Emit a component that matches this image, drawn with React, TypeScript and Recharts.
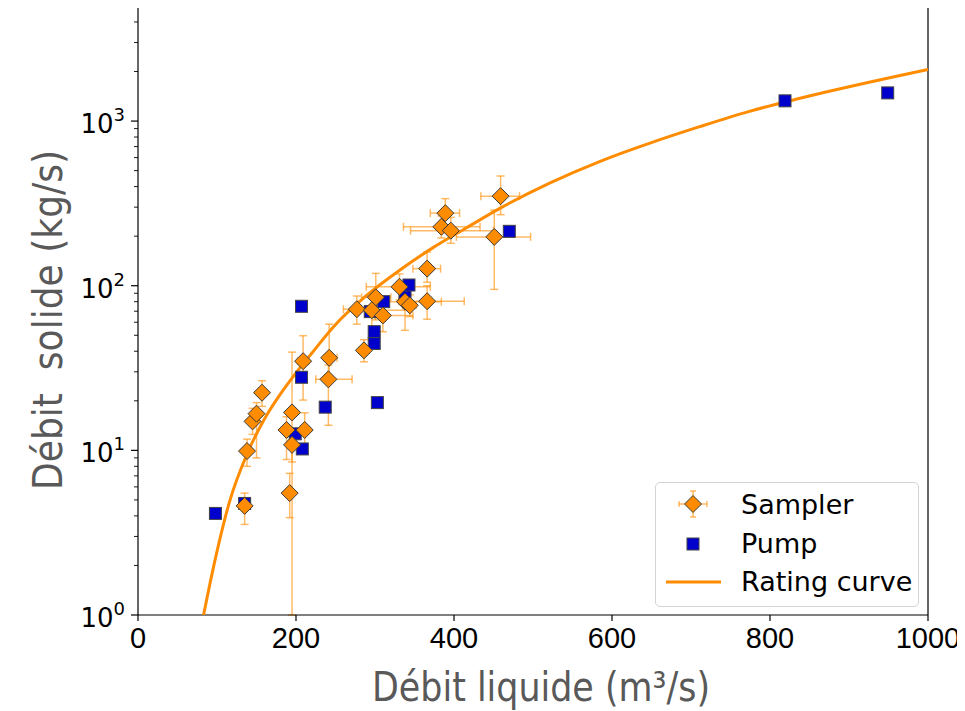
import { ScatterChart, Scatter, XAxis, YAxis, ErrorBar, ReferenceLine, Label } from 'recharts';

// Sampler points (débit liquide, débit solide) with error bounds
const samplerQ = [135, 138, 145, 150, 157, 192, 188, 195, 195, 211, 209, 242, 241, 286, 277, 301, 296, 310, 331, 338, 344, 366, 366, 389, 384, 396, 459, 451];
const samplerQs = [4.6, 9.9, 15.0, 16.7, 22.4, 5.5, 13.3, 17, 10.8, 13.3, 34.8, 36.5, 27, 40.5, 72, 85, 71, 66, 98.5, 80, 76, 127, 80.5, 276, 228, 216, 350, 198];
const samplerQsLow = [3.55, 8.0, 12.5, 9.0, 18.5, 3.9, 8.8, 1.0, 8.5, 10.0, 20.2, 28, 14.2, 34.5, 58.4, 62, 55, 52.6, 82, 53.6, 65, 105, 62.6, 230, 195, 181, 270, 95];
const samplerQsHigh = [5.5, 11.7, 18, 19.5, 26.5, 7.25, 16, 39.5, 13.5, 16.9, 49.7, 58.4, 33, 47, 86.6, 118.8, 90, 78, 118, 100, 88, 160, 100, 338, 265, 260, 464, 288];
const samplerQLow = [131, 133, 140, 145, 152, 188, 183, 190, 190, 206, 202, 236, 225, 280, 260, 283, 280, 300, 289, 310, 335, 348, 330, 370, 336, 345, 434, 403];
const samplerQHigh = [140, 143, 150, 155, 162, 196, 193, 200, 200, 216, 216, 252, 271, 292, 295, 320, 345, 348, 370, 384, 352, 383, 413, 407, 433, 450, 483, 497];

// Pump points
const pumpQ = [98, 135, 199, 208, 207, 207, 237, 294, 299, 299, 303, 311, 338, 343, 470, 819, 949];
const pumpQs = [4.14, 4.76, 12.6, 10.2, 27.8, 75, 18.3, 69.6, 44.6, 52.6, 19.5, 80, 88, 101, 214, 1327, 1483];

// Rating curve
const curveQ = [83, 95, 116, 138, 159, 180, 201, 222, 247, 289, 332, 374, 416, 458, 521, 585, 648, 711, 775, 838, 1000];
const curveQs = [1, 1.9, 4.9, 9.5, 15.2, 21.9, 30, 40, 56, 87, 125, 171, 225, 295, 420, 570, 735, 925, 1150, 1375, 2056];

const xTicks = [0, 200, 400, 600, 800, 1000];
const yTicks = [
  1, 2, 3, 4, 5, 6, 7, 8, 9,
  10, 20, 30, 40, 50, 60, 70, 80, 90,
  100, 200, 300, 400, 500, 600, 700, 800, 900,
  1000, 2000, 3000, 4000, 5000,
];

const samplerData = samplerQ.map((q, i) => ({
  x: q,
  y: samplerQs[i],
  ex: [q - samplerQLow[i], samplerQHigh[i] - q],
  ey: [samplerQs[i] - samplerQsLow[i], samplerQsHigh[i] - samplerQs[i]],
}));
const pumpData = pumpQ.map((q, i) => ({ x: q, y: pumpQs[i] }));
const curveData = curveQ.map((q, i) => ({ x: q, y: curveQs[i] }));

const ORANGE = '#ff8c00';
const ERR = 'rgba(255,140,0,0.6)';
const BLUE = '#0000cd';
const TITLE_FONT = '"Liberation Sans Narrow", "DejaVu Sans Condensed", "Liberation Sans", sans-serif';

const Diamond = (props: any) => {
  const { cx, cy } = props;
  const r = 8.5;
  return (
    <polygon
      points={`${cx},${cy - r} ${cx + r},${cy} ${cx},${cy + r} ${cx - r},${cy}`}
      fill={ORANGE}
      stroke="#3a3a3a"
      strokeWidth={1}
    />
  );
};

const Square = (props: any) => {
  const { cx, cy } = props;
  return <rect x={cx - 6} y={cy - 6} width={12} height={12} fill={BLUE} stroke="#444" strokeWidth={1} />;
};

const NoDot = () => <g />;

const XTick = (props: any) => {
  const { x, y, payload } = props;
  return (
    <text x={x} y={y + 27} textAnchor="middle" fontFamily='"Liberation Sans", sans-serif' fontSize={29} fill="#000">
      {payload.value}
    </text>
  );
};

const YTick = (props: any) => {
  const { x, y, payload } = props;
  const lg = Math.log10(payload.value);
  const exp = Math.round(lg);
  const major = Math.abs(lg - exp) < 1e-6;
  return (
    <g>
      <line x1={x} x2={x - (major ? 7 : 4)} y1={y} y2={y} stroke="#000" strokeWidth={major ? 1.2 : 0.9} />
      {major && (
        <text x={x - 13} y={y + 12} textAnchor="end" fontFamily="DejaVu Sans" fontSize={26} fill="#000">
          <tspan>10</tspan>
          <tspan dy={-12} fontSize={18}>{exp}</tspan>
        </text>
      )}
    </g>
  );
};

const ChartLegend = () => (
  <div
    style={{
      position: 'absolute',
      left: 655,
      top: 482,
      width: 262,
      height: 123,
      border: '1px solid #d4d4d4',
      borderRadius: 5,
      background: '#fff',
    }}
  >
    <svg width={262} height={123}>
      <g stroke={ERR} strokeWidth={1.5}>
        <line x1={23} x2={51} y1={21} y2={21} />
        <line x1={37} x2={37} y1={8} y2={34} />
        <line x1={23} x2={23} y1={18} y2={24} />
        <line x1={51} x2={51} y1={18} y2={24} />
        <line x1={34} x2={40} y1={8} y2={8} />
        <line x1={34} x2={40} y1={34} y2={34} />
      </g>
      <polygon points="37,12.5 45.5,21 37,29.5 28.5,21" fill={ORANGE} stroke="#3a3a3a" strokeWidth={1} />
      <rect x={31} y={55} width={12} height={12} fill={BLUE} stroke="#444" strokeWidth={1} />
      <line x1={10} x2={65} y1={99} y2={99} stroke={ORANGE} strokeWidth={3} />
      <g fontFamily="DejaVu Sans" fontSize={27} fill="#000">
        <text x={85} y={31}>Sampler</text>
        <text x={85} y={70}>Pump</text>
        <text x={85} y={108}>Rating curve</text>
      </g>
    </svg>
  </div>
);

export default function App() {
  return (
    <div style={{ position: 'relative', width: 965, height: 711, marginLeft: -8, marginTop: -8, background: '#fff' }}>
      <ScatterChart width={965} height={711} margin={{ top: 6, right: 37, bottom: 66, left: 78 }}>
        <XAxis
          type="number"
          dataKey="x"
          domain={[0, 1000]}
          ticks={xTicks}
          interval={0}
          height={30}
          tickSize={6}
          tickMargin={0}
          tick={<XTick />}
          stroke="#000"
          axisLine={{ stroke: '#000', strokeWidth: 1.2 }}
          tickLine={{ stroke: '#000', strokeWidth: 1.2 }}
        >
          <Label
            content={() => (
              <text
                x={541}
                y={701}
                textAnchor="middle"
                fontFamily={TITLE_FONT}
                fontSize={41}
                fill="#595959"
                textLength={338}
                lengthAdjust="spacingAndGlyphs"
              >
                Débit liquide (m³/s)
              </text>
            )}
          />
        </XAxis>
        <YAxis
          type="number"
          dataKey="y"
          scale="log"
          domain={[1, 5000]}
          allowDataOverflow
          ticks={yTicks}
          interval={0}
          width={60}
          tickSize={0}
          tickMargin={0}
          tickLine={false}
          tick={<YTick />}
          axisLine={{ stroke: '#000', strokeWidth: 1.2 }}
        >
          <Label
            content={() => (
              <text
                x={62}
                y={320}
                transform="rotate(-90, 62, 320)"
                textAnchor="middle"
                fontFamily={TITLE_FONT}
                fontSize={41}
                fill="#595959"
                textLength={340}
                lengthAdjust="spacingAndGlyphs"
                style={{ whiteSpace: 'pre' }}
              >
                {'Débit  solide (kg/s)'}
              </text>
            )}
          />
        </YAxis>
        <ReferenceLine x={1000} stroke="#000" strokeWidth={1.2} />
        <Scatter
          name="Rating curve"
          data={curveData}
          line={{ stroke: ORANGE, strokeWidth: 3 }}
          lineJointType="monotoneX"
          shape={<NoDot />}
          isAnimationActive={false}
        />
        <Scatter name="Pump" data={pumpData} shape={<Square />} isAnimationActive={false} />
        <Scatter name="Sampler" data={samplerData} shape={<Diamond />} isAnimationActive={false}>
          <ErrorBar dataKey="ey" direction="y" width={4} stroke={ERR} strokeWidth={1.5} isAnimationActive={false} />
          <ErrorBar dataKey="ex" direction="x" width={4} stroke={ERR} strokeWidth={1.5} isAnimationActive={false} />
        </Scatter>
      </ScatterChart>
      <ChartLegend />
    </div>
  );
}
